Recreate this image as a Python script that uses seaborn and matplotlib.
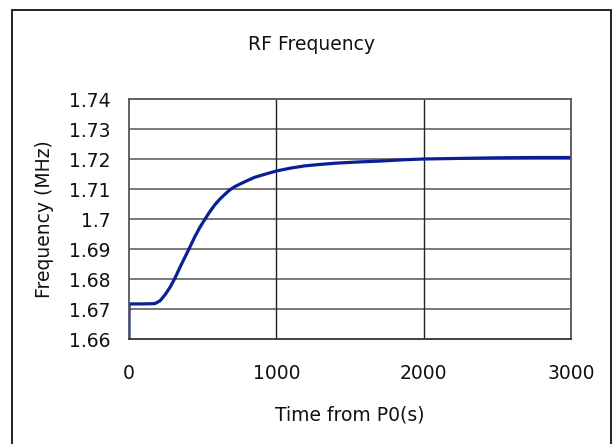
import numpy as np
import pandas as pd
import matplotlib
matplotlib.use("Agg")
import matplotlib.pyplot as plt
import seaborn as sns
from matplotlib.lines import Line2D

# ---- data ----
time_s = [0, 0, 100, 176, 210, 244, 278, 311, 345, 379, 413, 447, 481, 515, 548,
          582, 616, 650, 684, 718, 785, 853, 921, 1000, 1100, 1192, 1300,
          1400, 1550, 1700, 1850, 2000, 2250, 2500, 2750, 3000]
freq_mhz = [1.6600, 1.6717, 1.6717, 1.6718, 1.6727, 1.6747, 1.6772, 1.6802, 1.6838,
            1.6872, 1.6906, 1.6941, 1.6972, 1.6999, 1.7024, 1.7047, 1.7066, 1.7082,
            1.7097, 1.7108, 1.7124, 1.7139, 1.7149, 1.7160, 1.7170, 1.7177,
            1.7182, 1.7186, 1.7190, 1.7193, 1.7197, 1.7200, 1.7202, 1.7204, 1.7205,
            1.7205]
y_ticks = [1.66, 1.67, 1.68, 1.69, 1.70, 1.71, 1.72, 1.73, 1.74]
y_tick_labels = ["1.66", "1.67", "1.68", "1.69", "1.7", "1.71", "1.72", "1.73", "1.74"]
x_ticks = [0, 1000, 2000, 3000]
x_tick_labels = ["0", "1000", "2000", "3000"]
title = "RF Frequency"
x_label = "Time from P0(s)"
y_label = "Frequency (MHz)"

sns.set_theme(style="white")
plt.rcParams["font.family"] = ["DejaVu Sans"]

W, H = 612, 444
fig = plt.figure(figsize=(W / 100, H / 100), dpi=100)
fig.patch.set_facecolor("white")

left, right, top, bottom = 129, 571, 99, 339
ax = fig.add_axes([left / W, 1 - bottom / H, (right - left) / W, (bottom - top) / H])
ax.set_facecolor("white")

df = pd.DataFrame({"t": time_s, "f": freq_mhz})
sns.lineplot(data=df, x="t", y="f", ax=ax, sort=False, estimator=None,
             color="#0b1e96", linewidth=2.3)

ax.set_xlim(0, 3000)
ax.set_ylim(1.66, 1.74)
ax.set_xticks(x_ticks)
ax.set_xticklabels(x_tick_labels, fontsize=13.5, color="#111111")
ax.set_yticks(y_ticks)
ax.set_yticklabels(y_tick_labels, fontsize=13.5, color="#111111")
ax.tick_params(axis="x", length=0, pad=18)
ax.tick_params(axis="y", length=0, pad=13.5)

for yv in y_ticks[1:-1]:
    ax.axhline(yv, color="#6e6e6e", linewidth=1.3, zorder=1)
for xv in x_ticks[1:-1]:
    ax.axvline(xv, color="#222222", linewidth=1.0, zorder=1)

for side, sp in ax.spines.items():
    sp.set_visible(True)
    sp.set_linewidth(1.3)
    sp.set_color("#555555")
ax.spines["bottom"].set_color("#333333")

ax.set_xlabel(x_label, fontsize=13.5, color="#111111")
ax.set_ylabel(y_label, fontsize=13.5, color="#111111")
ax.xaxis.set_label_coords(0.5, -(405 - bottom) / (bottom - top))
ax.yaxis.set_label_coords(-(129 - 54) / (right - left), 0.5)

fig.text(311 / W, 1 - 44 / H, title, ha="center", va="center", fontsize=13.5,
         color="#111111")

# outer chart frame (bottom edge falls outside the picture)
fx0, fx1, fy0 = 11.5 / W, 610.5 / W, 1 - 10.5 / H
for xs, ys in [([fx0, fx0], [-0.01, fy0]), ([fx1, fx1], [-0.01, fy0]), ([fx0, fx1], [fy0, fy0])]:
    fig.add_artist(Line2D(xs, ys, transform=fig.transFigure, color="#222222", linewidth=1.4))

fig.savefig("out.png", dpi=100, facecolor="white")
